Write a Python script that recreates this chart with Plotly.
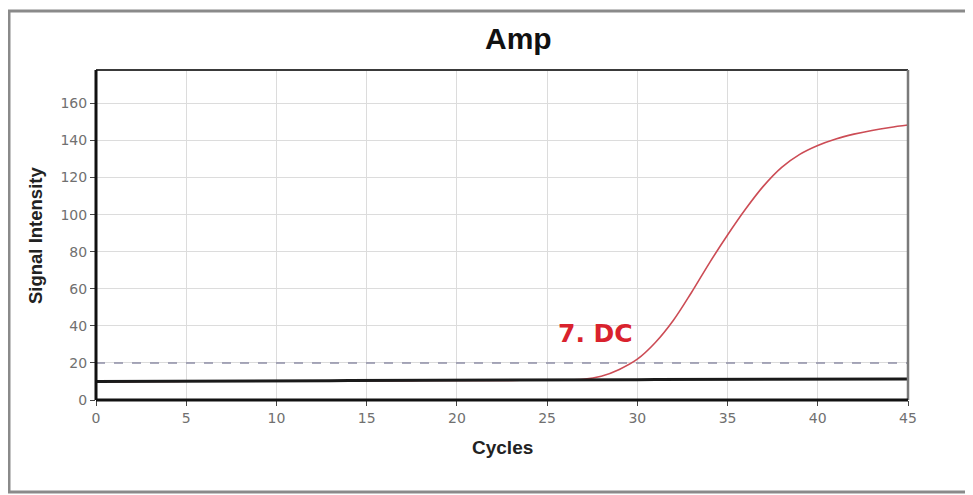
import plotly.graph_objects as go

cycles = list(range(0, 46))
baseline = [10.0, 10.0, 10.1, 10.1, 10.1, 10.2, 10.2, 10.2, 10.3, 10.3,
            10.3, 10.4, 10.4, 10.4, 10.5, 10.5, 10.5, 10.5, 10.6, 10.6,
            10.6, 10.7, 10.7, 10.7, 10.8, 10.8, 10.8, 10.8, 10.9, 10.9,
            10.9, 11.0, 11.0, 11.0, 11.0, 11.1, 11.1, 11.1, 11.1, 11.2,
            11.2, 11.2, 11.2, 11.3, 11.3, 11.3]
sample_dc = [10.0, 9.9, 9.9, 10.0, 10.0, 10.1, 10.1, 10.1, 10.2, 10.2,
             10.2, 10.3, 10.3, 10.3, 10.4, 10.4, 10.4, 10.4, 10.5, 10.5,
             10.5, 10.6, 10.6, 10.6, 10.7, 10.7, 10.8, 11.1, 12.8, 16.5,
             22.0, 31.0, 43.0, 58.0, 74.0, 89.0, 103.0, 115.5, 125.5, 132.5,
             137.3, 140.8, 143.4, 145.4, 147.0, 148.3]
threshold_x = [0, 45]
threshold_y = [20, 20]
x_ticks = [0, 5, 10, 15, 20, 25, 30, 35, 40, 45]
y_ticks = [0, 20, 40, 60, 80, 100, 120, 140, 160]
sample_label = "7. DC"

# page body has an 8px margin, so figure coords = screen coords - 8
OFF = 8
W, H = 973 - OFF, 495 - OFF
L, R, T, B = 96 - OFF, 908 - OFF, 70 - OFF, 400 - OFF
pw, ph = R - L, B - T

def px(xs):
    return (xs - OFF - L) / pw

def py(ys):
    return (B - (ys - OFF)) / ph

fig = go.Figure()
fig.add_trace(go.Scatter(x=threshold_x, y=threshold_y, mode="lines",
                         line=dict(color="#8e8ea6", width=1.5, dash="dash"),
                         hoverinfo="skip"))
fig.add_trace(go.Scatter(x=cycles, y=sample_dc, mode="lines",
                         line=dict(color="#cc4c55", width=1.6, shape="spline"),
                         hoverinfo="skip"))
fig.add_trace(go.Scatter(x=cycles, y=baseline, mode="lines",
                         line=dict(color="#1a1a1a", width=3),
                         hoverinfo="skip"))

tickfont = dict(family="DejaVu Sans", size=14, color="#707070")
fig.update_xaxes(range=[0, 45], tickvals=x_ticks, showgrid=True, gridcolor="#dcdcdc",
                 gridwidth=1, zeroline=False, showline=False, ticks="outside",
                 ticklen=5, tickcolor="#444", tickfont=tickfont, fixedrange=True)
fig.update_yaxes(range=[0, 178], tickvals=y_ticks, showgrid=True, gridcolor="#dcdcdc",
                 gridwidth=1, zeroline=False, showline=False, ticks="outside",
                 ticklen=5, tickcolor="#444", tickfont=tickfont, fixedrange=True)

shapes = [
    # plot borders
    dict(type="line", xref="paper", yref="paper", x0=0, x1=1, y0=1, y1=1,
         line=dict(color="#3a3a3a", width=2)),
    dict(type="line", xref="paper", yref="paper", x0=1, x1=1, y0=0, y1=1,
         line=dict(color="#7a7a7a", width=2.5)),
    dict(type="line", xref="paper", yref="paper", x0=0, x1=1, y0=0, y1=0,
         line=dict(color="#111", width=3)),
    dict(type="line", xref="paper", yref="paper", x0=0, x1=0, y0=0, y1=1,
         line=dict(color="#111", width=3)),
    # outer frame (open on right)
    dict(type="line", xref="paper", yref="paper", x0=px(8), x1=px(973), y0=py(11), y1=py(11),
         line=dict(color="#8a8a8a", width=3)),
    dict(type="line", xref="paper", yref="paper", x0=px(8), x1=px(973), y0=py(492), y1=py(492),
         line=dict(color="#8a8a8a", width=3)),
    dict(type="line", xref="paper", yref="paper", x0=px(9), x1=px(9), y0=py(11), y1=py(492),
         line=dict(color="#8a8a8a", width=3)),
]

annotations = [
    dict(text="<b>Amp</b>", xref="paper", yref="paper", x=px(518), y=py(38),
         showarrow=False, font=dict(family="Liberation Sans", size=30, color="#111"),
         xanchor="center", yanchor="middle"),
    dict(text="<b>Signal Intensity</b>", xref="paper", yref="paper", x=px(35), y=py(235),
         showarrow=False, textangle=-90, font=dict(family="Liberation Sans", size=18.5, color="#222"),
         xanchor="center", yanchor="middle"),
    dict(text="<b>Cycles</b>", xref="paper", yref="paper", x=px(502), y=py(447),
         showarrow=False, font=dict(family="Liberation Sans", size=19, color="#222"),
         xanchor="center", yanchor="middle"),
    dict(text="<b>" + sample_label + "</b>", x=27.7, y=36.1, xref="x", yref="y", showarrow=False,
         font=dict(family="DejaVu Sans", size=25, color="#d9222d"),
         xanchor="center", yanchor="middle"),
]

fig.update_layout(width=W, height=H, margin=dict(l=L, r=W - R, t=T, b=H - B),
                  paper_bgcolor="white", plot_bgcolor="white", showlegend=False,
                  shapes=shapes, annotations=annotations)

fig.write_html("out.html")
